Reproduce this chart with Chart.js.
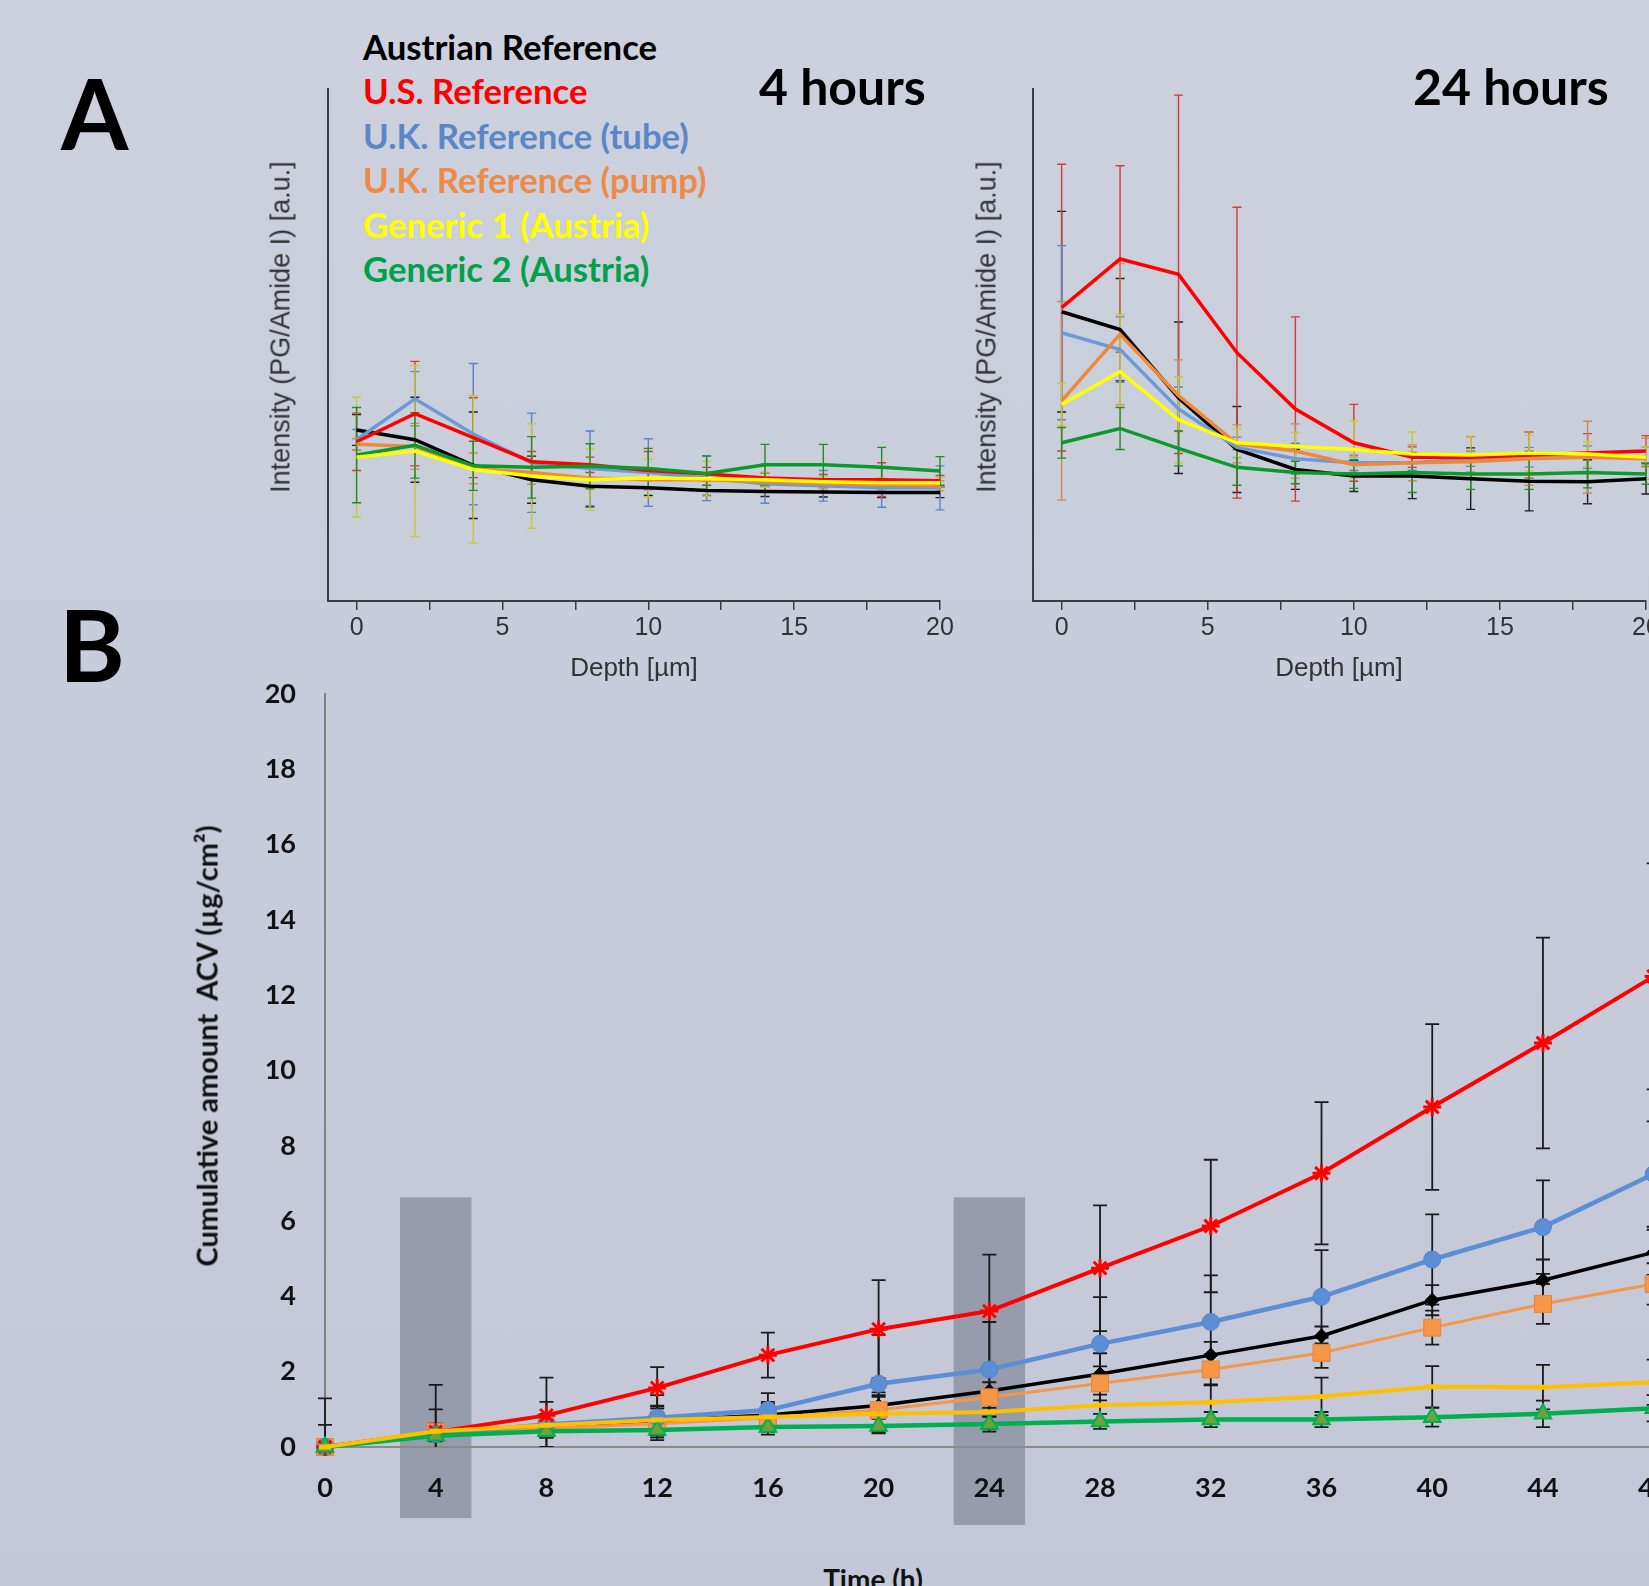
<!DOCTYPE html>
<html>
<head>
<meta charset="utf-8">
<script src="https://cdn.jsdelivr.net/npm/chart.js@4.4.1/dist/chart.umd.min.js"></script>
<style>
  html, body { margin: 0; padding: 0; }
  body {
    width: 1649px; height: 1586px; overflow: hidden; position: relative;
    background: linear-gradient(#ccd1dd, #c3c7d7);
    font-family: Lato, sans-serif;
  }
  canvas { position: absolute; }
  .txt { position: absolute; white-space: pre; line-height: 1; }
  .panel { font-weight: 700; color: #000; }
  .hours { font-weight: 700; font-size: 50px; top: 61px; color: #000; }
  #legend { position: absolute; left: 363px; top: 25px; font-weight: 700; font-size: 34.7px; line-height: 44.4px; white-space: pre; }
  .ya { font-family: 'Liberation Sans', Arial, sans-serif; font-size: 27px; color: #333; line-height: 1.15;
        transform: translate(-50%, -50%) rotate(-90deg); }
  .xa { font-family: 'Liberation Sans', Arial, sans-serif; font-size: 26px; color: #333; line-height: 1.15;
        transform: translate(-50%, -50%); }
  .yb { font-weight: 700; font-size: 29px; color: #111; line-height: 1.2;
        transform: translate(-50%, -50%) rotate(-90deg); }
  .xb { font-weight: 700; font-size: 28px; color: #111; transform: translateX(-50%); }
</style>
</head>
<body>
<div class="txt panel" style="left:61px;top:64px;font-size:97px">A</div>
<div class="txt panel" style="left:59px;top:593px;font-size:100px">B</div>
<div id="legend"></div>
<div class="txt hours" style="left:759px">4 hours</div>
<div class="txt hours" style="left:1413px">24 hours</div>

<canvas id="a4h" width="730" height="581" style="left:228px;top:80px"></canvas>
<canvas id="a24h" width="731" height="581" style="left:933px;top:80px"></canvas>
<canvas id="bCum" width="1660" height="883" style="left:150px;top:644px"></canvas>

<div class="txt ya" style="left:281px;top:327px">Intensity (PG/Amide I) [a.u.]</div>
<div class="txt ya" style="left:987px;top:327px">Intensity (PG/Amide I) [a.u.]</div>
<div class="txt xa" style="left:634px;top:668px">Depth [µm]</div>
<div class="txt xa" style="left:1339px;top:668px">Depth [µm]</div>
<div class="txt yb" style="left:207px;top:1046px">Cumulative amount  ACV (µg/cm²)</div>
<div class="txt xb" style="left:873px;top:1565px">Time (h)</div>

<script>
const seriesNames = ['Austrian Reference', 'U.S. Reference', 'U.K. Reference (tube)',
  'U.K. Reference (pump)', 'Generic 1 (Austria)', 'Generic 2 (Austria)']

// Panel A: Raman depth profiles, intensity in arbitrary units
const depthUm = [0, 2, 4, 6, 8, 10, 12, 14, 16, 18, 20]
const depthTicks = [0, 2.5, 5, 7.5, 10, 12.5, 15, 17.5, 20]

const austrian4h = [33.4, 31.5, 26.5, 23.7, 22.4, 22.1, 21.6, 21.4, 21.3, 21.2, 21.2]
const us4h = [31.1, 36.6, 31.9, 27.2, 26.6, 25.5, 24.8, 24.0, 23.7, 23.7, 23.5]
const ukTube4h = [31.5, 39.5, 32.6, 27.0, 25.9, 25.1, 24.0, 22.9, 22.5, 22.1, 22.1]
const ukPump4h = [30.6, 30.2, 25.9, 25.1, 24.0, 23.7, 23.7, 23.3, 22.9, 22.7, 22.5]
const generic1_4h = [28.1, 29.3, 25.7, 24.4, 23.7, 24.0, 23.9, 23.7, 23.3, 23.1, 23.1]
const generic2_4h = [28.5, 30.4, 26.4, 26.1, 26.3, 25.9, 24.9, 26.6, 26.6, 26.1, 25.4]

const austrian4hSd = [3, 8.3, 10.4, 4.6, 4, 1.5, 1, 1, 1, 1, 1]
const us4hSd = [5.6, 10.2, 7.8, 2, 1.5, 3.7, 1.3, 1, 1, 3.3, 1]
const ukTube4hSd = [2, 5.3, 13.8, 9.7, 7.3, 6.6, 4.4, 3.8, 3, 3.8, 4.3]
const ukPump4hSd = [1.1, 4.5, 3, 2.3, 2, 2, 1, 1, 1, 1, 1]
const generic1_4hSd = [11.7, 16.7, 14.4, 10.2, 6, 3.7, 3.4, 1.5, 1, 1, 1]
const generic2_4hSd = [9.3, 6.4, 4.8, 6, 4.4, 3.9, 3.4, 4, 4, 3.9, 2.8]

const austrian24h = [56.5, 53.0, 39.7, 29.6, 25.7, 24.4, 24.4, 23.9, 23.4, 23.3, 23.9]
const us24h = [57.3, 66.8, 63.8, 48.5, 37.5, 30.9, 28.1, 28.1, 28.5, 28.9, 29.3]
const ukTube24h = [52.4, 49.1, 37.5, 30.0, 27.8, 27.0, 27.0, 27.8, 28.1, 28.1, 28.1]
const ukPump24h = [39.1, 52.1, 40.1, 30.7, 29.3, 26.6, 27.0, 27.2, 27.8, 28.1, 27.8]
const generic1_24h = [38.4, 44.8, 35.4, 30.9, 30.2, 29.6, 28.7, 28.5, 28.9, 28.7, 28.1]
const generic2_24h = [30.9, 33.7, 29.8, 26.1, 25.1, 24.8, 25.1, 24.8, 24.8, 25.1, 24.8]

const austrian24hSd = [19.6, 10, 14.8, 8.4, 3.9, 3, 4.4, 6, 5.8, 4.3, 3]
const us24hSd = [28, 18.2, 35, 28.4, 18, 7.5, 2, 4, 4.5, 3.8, 3]
const ukTube24hSd = [17, 6.4, 4.3, 2, 3, 1.5, 1.5, 1.5, 1.9, 2.2, 2]
const ukPump24hSd = [19.4, 13.8, 7, 3.7, 5.3, 1.5, 3.5, 2, 5.2, 7, 4]
const generic1_24hSd = [4.1, 11.2, 8.4, 2.8, 2.7, 5.6, 4.3, 3.7, 3.5, 2.4, 2]
const generic2_24hSd = [3, 4.1, 3.4, 3.5, 2.2, 2.8, 3.9, 3, 3, 3, 2]

// Panel B: cumulative permeated acyclovir
const timeH = [0, 4, 8, 12, 16, 20, 24, 28, 32, 36, 40, 44, 48]
const timeTicks = [0, 4, 8, 12, 16, 20, 24, 28, 32, 36, 40, 44, 48, 52]
const amountTicks = [0, 2, 4, 6, 8, 10, 12, 14, 16, 18, 20]
const samplingTimes = [4, 24]

const austrianCum = [0, 0.4, 0.55, 0.7, 0.85, 1.1, 1.49, 1.94, 2.44, 2.95, 3.9, 4.43, 5.17]
const usCum = [0, 0.4, 0.84, 1.57, 2.44, 3.13, 3.61, 4.75, 5.87, 7.27, 9.03, 10.73, 12.5]
const ukTubeCum = [0, 0.35, 0.6, 0.78, 0.98, 1.68, 2.06, 2.74, 3.32, 3.99, 4.98, 5.84, 7.25]
const ukPumpCum = [0, 0.4, 0.5, 0.62, 0.78, 0.98, 1.32, 1.69, 2.06, 2.5, 3.17, 3.8, 4.33]
const generic1Cum = [0, 0.42, 0.58, 0.72, 0.8, 0.88, 0.93, 1.11, 1.19, 1.34, 1.6, 1.59, 1.72]
const generic2Cum = [0, 0.3, 0.42, 0.45, 0.53, 0.56, 0.61, 0.68, 0.73, 0.73, 0.79, 0.88, 1.03]

const austrianCumSd = [0, 0.2, 0.3, 0.4, 0.3, 0.35, 0.45, 0.55, 0.35, 0.25, 0.4, 0.55, 0.6]
const usCumSd = [1.29, 1.25, 1.0, 0.55, 0.6, 1.3, 1.5, 1.67, 1.76, 1.89, 2.2, 2.8, 3.0]
const ukTubeCumSd = [0.59, 0.65, 0.6, 0.6, 0.45, 1.3, 1.26, 1.24, 1.24, 1.24, 1.2, 1.24, 1.4]
const ukPumpCumSd = [0, 0.2, 0.25, 0.3, 0.35, 0.4, 0.4, 0.45, 0.4, 0.4, 0.45, 0.53, 0.55]
const generic1CumSd = [0, 0.2, 0.3, 0.35, 0.4, 0.45, 0.45, 0.5, 0.45, 0.5, 0.55, 0.59, 0.6]
const generic2CumSd = [0, 0.15, 0.15, 0.2, 0.2, 0.2, 0.2, 0.2, 0.2, 0.2, 0.25, 0.35, 0.35]

// legend text colours (panel A)
const legendColors = ['#000000', '#ff0000', '#5b87c6', '#ee8a48', '#ffff00', '#00a14b']
document.getElementById('legend').innerHTML = seriesNames
  .map((n, i) => `<div style="color:${legendColors[i]}">${n}</div>`).join('')

// draws +/- error bars for every dataset that carries an `errors` array
const errorBarPlugin = {
  id: 'errorBars',
  beforeDatasetsDraw(chart, args, opts) {
    const { ctx, chartArea } = chart
    const yScale = chart.scales.y
    ctx.save()
    ctx.beginPath()
    ctx.rect(chartArea.left - 12, chartArea.top, chartArea.right - chartArea.left + 24, chartArea.bottom - chartArea.top)
    ctx.clip()
    chart.data.datasets.forEach((ds, i) => {
      if (!ds.errors) return
      const meta = chart.getDatasetMeta(i)
      ctx.strokeStyle = ds.errorColor || opts.color
      ctx.lineWidth = opts.width
      meta.data.forEach((pt, j) => {
        const e = ds.errors[j]
        if (!e) return
        const v = ds.data[j].y
        const top = yScale.getPixelForValue(v + e)
        const bot = yScale.getPixelForValue(v - e)
        ctx.beginPath()
        ctx.moveTo(pt.x, top)
        ctx.lineTo(pt.x, bot)
        ctx.moveTo(pt.x - opts.cap, top)
        ctx.lineTo(pt.x + opts.cap, top)
        ctx.moveTo(pt.x - opts.cap, bot)
        ctx.lineTo(pt.x + opts.cap, bot)
        ctx.stroke()
      })
    })
    ctx.restore()
  }
}

// grey bands marking the 4 h and 24 h sampling times
const samplingBandPlugin = {
  id: 'samplingBands',
  beforeDraw(chart, args, opts) {
    const { ctx, scales: { x, y } } = chart
    ctx.save()
    ctx.fillStyle = opts.color
    opts.times.forEach((t, i) => {
      const left = x.getPixelForValue(t - opts.halfWidth)
      const right = x.getPixelForValue(t + opts.halfWidth)
      const top = y.getPixelForValue(opts.top)
      const bottom = y.getPixelForValue(0) + opts.below[i]
      ctx.fillRect(left, top, right - left, bottom - top)
    })
    ctx.restore()
  }
}

const toPoints = (xs, ys) => xs.map((x, i) => ({ x, y: ys[i] }))

const depthLineColors = ['#000000', '#ff0000', '#6a9bd6', '#f0883a', '#ffff00', '#0a9a2a']
const depthErrColors = ['#1e1e1e', '#d43a3a', '#5a85c2', '#c98a5a', '#c9c934', '#268a26']
const depthOrder = [5, 3, 4, 2, 0, 1]
const axisGrey = '#3c3c3c'

function makeDepthChart(id, values, errors) {
  new Chart(document.getElementById(id), {
    type: 'line',
    data: {
      datasets: values.map((vals, i) => ({
        label: seriesNames[i],
        data: toPoints(depthUm, vals),
        errors: errors[i],
        errorColor: depthErrColors[i],
        borderColor: depthLineColors[i],
        borderWidth: 3.5,
        pointRadius: 0,
        tension: 0,
        order: depthOrder[i],
      })),
    },
    options: {
      responsive: false,
      animation: false,
      devicePixelRatio: 1,
      layout: { padding: { top: 9, right: 18, left: 0, bottom: 0 } },
      plugins: {
        legend: { display: false },
        tooltip: { enabled: false },
        errorBars: { width: 1.4, cap: 4.5 },
      },
      scales: {
        x: {
          type: 'linear',
          min: -0.98,
          max: 20,
          afterBuildTicks: (s) => { s.ticks = depthTicks.map((v) => ({ value: v })) },
          afterFit: (s) => { s.height = 60 },
          ticks: {
            autoSkip: false,
            maxRotation: 0,
            padding: 3,
            color: '#333',
            font: { family: 'Liberation Sans', size: 25 },
            callback: (v) => (v % 5 === 0 ? v : ''),
          },
          grid: { display: true, drawOnChartArea: false, drawTicks: true, tickLength: 9, color: axisGrey, lineWidth: 1.5 },
          border: { display: true, color: axisGrey, width: 2 },
        },
        y: {
          min: 0,
          max: 100,
          afterFit: (s) => { s.width = 100 },
          ticks: { display: false },
          grid: { display: false, drawTicks: false },
          border: { display: true, color: axisGrey, width: 2 },
        },
      },
    },
    plugins: [errorBarPlugin],
  })
}

makeDepthChart('a4h',
  [austrian4h, us4h, ukTube4h, ukPump4h, generic1_4h, generic2_4h],
  [austrian4hSd, us4hSd, ukTube4hSd, ukPump4hSd, generic1_4hSd, generic2_4hSd])

makeDepthChart('a24h',
  [austrian24h, us24h, ukTube24h, ukPump24h, generic1_24h, generic2_24h],
  [austrian24hSd, us24hSd, ukTube24hSd, ukPump24hSd, generic1_24hSd, generic2_24hSd])

// Panel B
const cumValues = [austrianCum, usCum, ukTubeCum, ukPumpCum, generic1Cum, generic2Cum]
const cumErrors = [austrianCumSd, usCumSd, ukTubeCumSd, ukPumpCumSd, generic1CumSd, generic2CumSd]
const cumStyles = [
  { line: '#000000', width: 3.5, point: 'rectRot', r: 7, fill: '#000000', edge: '#000000', edgeW: 1, order: 5 },
  { line: '#ff0000', width: 4, point: 'star', r: 9, fill: '#ff0000', edge: '#ff0000', edgeW: 3, order: 2 },
  { line: '#5b8fd5', width: 4.5, point: 'circle', r: 8.5, fill: '#5b8fd5', edge: '#5584c8', edgeW: 1, order: 3 },
  { line: '#f79646', width: 3, point: 'rect', r: 12, fill: '#f79646', edge: '#e2853c', edgeW: 1, order: 4 },
  { line: '#ffc000', width: 4, point: 'line', r: 6, fill: '#ffc000', edge: '#ffc000', edgeW: 5, order: 0 },
  { line: '#00b050', width: 4.5, point: 'triangle', r: 9.5, fill: '#6fa23c', edge: '#00b050', edgeW: 2, order: 1 },
]

const boldTick = { family: 'Lato', weight: 'bold', size: 27 }

new Chart(document.getElementById('bCum'), {
  type: 'line',
  data: {
    datasets: cumValues.map((vals, i) => {
      const s = cumStyles[i]
      return {
        label: seriesNames[i],
        data: toPoints(timeH, vals),
        errors: cumErrors[i],
        borderColor: s.line,
        borderWidth: s.width,
        pointStyle: s.point,
        pointRadius: s.r,
        pointBackgroundColor: s.fill,
        pointBorderColor: s.edge,
        pointBorderWidth: s.edgeW,
        tension: 0,
        clip: false,
        order: s.order,
      }
    }),
  },
  options: {
    responsive: false,
    animation: false,
    devicePixelRatio: 1,
    // padding larger than the tick-label overhang so the plot box is fixed
    layout: { padding: { top: 50, right: 45.6, left: 0, bottom: 0 } },
    plugins: {
      legend: { display: false },
      tooltip: { enabled: false },
      errorBars: { color: '#1a1a1a', width: 1.8, cap: 7 },
      samplingBands: { times: samplingTimes, halfWidth: 1.29, top: 6.63, below: [71, 78], color: '#979cad' },
    },
    scales: {
      x: {
        type: 'linear',
        min: 0,
        max: 52,
        afterBuildTicks: (s) => { s.ticks = timeTicks.map((v) => ({ value: v })) },
        afterFit: (s) => { s.height = 80 },
        ticks: { autoSkip: false, maxRotation: 0, padding: 25, color: '#111', font: boldTick },
        grid: { display: false, drawTicks: false },
        border: { display: true, color: '#8a8a8a', width: 2 },
      },
      y: {
        min: 0,
        max: 20,
        afterBuildTicks: (s) => { s.ticks = amountTicks.map((v) => ({ value: v })) },
        afterFit: (s) => { s.width = 175 },
        ticks: { padding: 29, color: '#111', font: boldTick },
        grid: { display: false, drawTicks: false },
        border: { display: true, color: '#808080', width: 2 },
      },
    },
  },
  plugins: [samplingBandPlugin, errorBarPlugin],
})
</script>
</body>
</html>
